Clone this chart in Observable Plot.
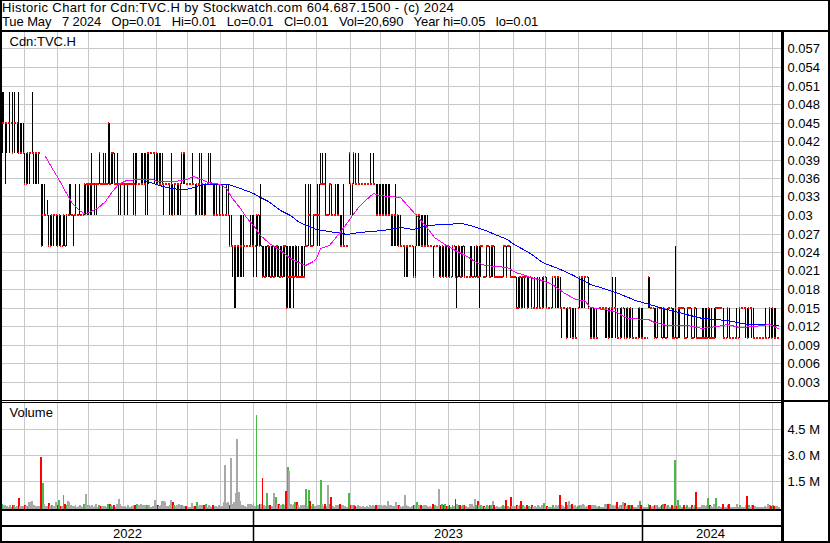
<!DOCTYPE html>
<html><head><meta charset="utf-8">
<script src="https://cdn.jsdelivr.net/npm/d3@7"></script>
<script src="https://cdn.jsdelivr.net/npm/@observablehq/plot@0.6"></script>
<style>
body{margin:0;background:#fff;}
#wrap{position:relative;width:830px;height:543px;overflow:hidden;background:#fff;font-family:"Liberation Sans",Arial,sans-serif;}
.ln{position:absolute;background:#000;}
#title{position:absolute;left:2px;top:1px;font-size:13px;line-height:14px;white-space:pre;color:#000;}
#title .l1{letter-spacing:0.38px;}
#title .l2{letter-spacing:-0.1px;}
</style></head><body><div id="wrap"></div>
<script>
// ---- text ----
const titleLine1 = "Historic Chart for Cdn:TVC.H by Stockwatch.com 604.687.1500 - (c) 2024";
const titleLine2 = "Tue May   7 2024   Op=0.01   Hi=0.01   Lo=0.01   Cl=0.01   Vol=20,690   Year hi=0.05   lo=0.01";
const symbolLabel = "Cdn:TVC.H";
const volumeLabel = "Volume";
const years = ["2022", "2023", "2024"];
const priceTicks = [0.003,0.006,0.009,0.012,0.015,0.018,0.021,0.024,0.027,0.03,0.033,0.036,0.039,0.042,0.045,0.048,0.051,0.054,0.057];
const volTicks = [1500, 3000, 4500]; // thousands of shares

// ---- daily bars (cents), one line per week, weekdays 2022-05-10 .. 2024-05-07 ----
const hi = [
5,5,5,4.5,
4.5,4.5,5,4.5,5, 5,4.5,4.5,5,4.5, 4.5,4.5,4,4,4, 4,4,5,4,4, 4,4,4,3.5,3.5,
3.5,3,3.25,3,3, 3,3,3,3,3, 3,3,2.5,3,3, 3,3,3.5,3.5,3, 3,3.5,3,3,3.5,
3,3,3.5,3.5,3.5, 3.5,3.5,4,3.5,3.5, 3.5,3.5,4,3.5,3.5, 4,4,3.5,4.5,4.5, 4,4,4,3.5,4,
3.5,3.5,3.5,3.5,3.5, 3.5,3.5,3.5,3.5,3.5, 4,4,4,3.5,3.5, 4,4,4,4,4, 4,4,4,4,4,
4,4,4,4,4, 3.5,3.5,3.5,3.5,3.5, 4,3.5,3.5,3.5,3.5, 3.5,3.5,4,4,4, 3.5,3.5,3.5,3.5,4,
3.5,3.5,3.5,3.5,4, 4,3.5,3.5,3.5,3.5, 4,4,3.5,3.5,3.5, 3.5,3,3.5,3,3.5, 3,3,3.5,3.5,3,
3,2.5,2.5,2.5,2.5, 2.5,3,3,3,2.5, 2.5,2.5,2.5,3,3, 3,2.5,3,3,3, 3.5,2.5,2.5,2.5,2.5,
2.5,2.5,2.5,2.5,2.5, 2.5,2.5,2.5,2.5,2.5, 2.5,2.5,2.5,2.5,2.5, 2.5,2.5,2.5,2.5,2.5, 2.5,2,2.5,2.5,2.5,
3.5,2.5,3.5,3.5,2.5, 3,3,3,3.5,3.5, 4,4,3.5,4,3, 3,3.5,3.5,3,3, 3.5,3.5,3.5,3,3,
3.5,2.5,2.5,2.5,4, 3.5,3.5,4,4,3.5, 4,3.5,3.5,3.5,3.5, 3.5,3.5,3.5,4,3.5, 4,3.5,3.5,3.5,3.5,
3.5,3.5,3.5,3.5,3.5, 3.5,3.5,3,3,3, 3.5,3,3,3,2.5, 2.5,2.5,2.5,2.5,2.5, 2.5,2.5,2.5,2.5,3,
3,3,3,3,3, 3,3,2.5,2.5,2.5, 2.5,2.5,2.5,2.5,2.5, 2.5,2.5,2.5,2.5,2.5, 2.5,2.5,2,2.5,2.5,
2.5,2.5,2.5,2.5,2.5, 2.5,2.5,2,2,2, 2.5,2.5,2,2.5,2.5, 2.5,2.5,2.5,2.5,2, 2,2.5,2.5,2.5,2.5,
2.5,2.5,2,2,2, 2,2,2.5,2.5,2.5, 2.5,2.5,2.5,2,2, 2,2,2,2,2, 2,2,2,2,2,
2,2,1.5,2,1.5, 2,2,1.5,2,2, 2,2,1.5,1.5,1.5, 2,2,2,2,2, 2,1.5,1.5,1.5,1.5,
1.5,1.5,1.5,1.5,1.5, 1.5,1,1.5,2,2, 2,2,2,2,2, 1.5,1.5,1.5,1.5,1.5, 1,1.5,1.5,1.5,1.5,
1.5,1.5,1.5,1.5,1.5, 2,1.5,2,1.5,1, 1.5,1.5,1.5,1.5,1.5, 1.5,1.5,1.5,1.5,1, 1,1,1.5,1.5,1.5,
1.5,1,1,1,2, 2,1.5,1.5,1.5,1.5, 1.5,1.5,1.5,1.5,1.5, 1.5,1,1.5,1.5,1.5, 1.5,1.5,2.5,1,1.5,
1.5,1.5,1.5,1.5,1, 1.5,1.5,1.5,1.5,1, 1.5,1.5,1,1,1, 1.5,1.5,1.5,1.5,1.5, 1.5,1.5,1,1.5,1.5,
1.5,1.5,1.5,1.5,1.5, 1,1,1.5,1.5,1, 1,1,1,1.5,1, 1.5,1.5,1.5,1.5,1.5, 1.5,1.5,1.5,1.5,1.5,
1,1,1,1,1, 1,1,1.5,1,1, 1.5,1.5,1.5,1.5,1.5,
1,1];
const lo = [
4,4,4.5,3.5,
4,4.5,4,4.5,4, 4,4.5,4,4,4, 4,4,3.5,3.5,3.5, 3.5,4,4,3.5,3.5, 3.5,3.5,4,2.5,2.5,
3,3,3,2.5,2.5, 2.5,2.5,3,2.5,2.5, 2.5,2.5,2.5,2.5,2.5, 2.5,3,3,3,3, 2.5,3,3,3,3,
3,3,3,3,3, 3,3,3,3.5,3, 3,3.5,3.5,3.5,3.5, 3.5,3.5,3.5,3.5,3.5, 3.5,3.5,3.5,3.5,3.5,
3,3,3.5,3.5,3, 3.5,3,3.5,3.5,3.5, 3,3,3.5,3.5,3.5, 3.5,3.5,3.5,3,3, 3.5,4,4,4,3.5,
3.5,3.5,3.5,3.5,3.5, 3,3.5,3.5,3.5,3, 3,3,3,3.5,3, 3,3,3.5,3.5,3.5, 3.5,3.5,3.5,3.5,3.5,
3.5,3,3,3.5,3, 3,3,3,3,3.5, 3.5,3.5,3.5,3,3, 3,3,3,3,3, 3,3,3,3,2.5,
2.5,2,1.5,1.5,2, 2,2,2,2,2.5, 2.5,2.5,2.5,2.5,2.5, 2,2.5,2,2.5,2.5, 2.5,2,2,2,2,
2,2,2,2,2, 2,2,2,2,2, 2,2,1.5,1.5,1.5, 1.5,2,1.5,2,2, 2,2,2,2,2,
2.5,2.5,2.5,2.5,2.5, 2.5,3,3,2.5,2.5, 3.5,3.5,3.5,3,3, 3,3,3,3,3, 3,3,3,2.5,2.5,
2.5,2.5,2.5,2.5,3.5, 3,3,3.5,3.5,3.5, 3.5,3.5,3.5,3.5,3.5, 3.5,3.5,3.5,3.5,3.5, 3.5,3.5,3,3,3,
3,3,3,3,3, 3,3,2.5,2.5,2.5, 2.5,2.5,2.5,2.5,2.5, 2.5,2,2,2,2.5, 2.5,2.5,2,2,2.5,
2.5,2.5,2.5,2.5,2.5, 2.5,2.5,2.5,2.5,2.5, 2,2.5,2.5,2.5,2, 2,2,2,2,2, 2,2,2,2,2.5,
2,1.5,2,2,2, 2,2,2,2,2, 2,2,2,2,2, 2,1.5,2,2.5,2, 2,2,2.5,2,2,
2,2,2,2,2, 2,2,2,2.5,2, 2.5,2.5,2,2,2, 2,1.5,1.5,1.5,1.5, 1.5,1.5,2,1.5,1.5,
2,1.5,1.5,1.5,1.5, 1.5,1.5,1.5,1.5,1.5, 2,1.5,1.5,1.5,1.5, 1.5,2,1.5,1.5,1.5, 1.5,1,1.5,1.5,1,
1,1.5,1,1,1, 1,1,1.5,1.5,1.5, 1.5,1.5,2,2,1.5, 1,1,1,1,1, 1,1.5,1.5,1.5,1.5,
1,1,1,1,1, 1,1.5,1,1,1, 1,1,1.5,1,1, 1,1,1,1,1, 1,1,1,1,1,
1,1,1,1,1.5, 1.5,1.5,1.5,1,1, 1,1.5,1.5,1,1, 1,1,1,1.5,1.5, 1,1,1,1,1,
1,1.5,1.5,1,1, 1,1.5,1.5,1,1, 1,1,1,1,1, 1,1,1,1,1, 1,1,1,1,1,
1.5,1.5,1.5,1.5,1, 1,1,1,1,1, 1,1,1,1,1, 1,1.5,1.5,1.5,1, 1,1,1.5,1,1,
1,1,1,1,1, 1,1,1,1,1, 1,1,1,1,1,
1,1];
const cl = [
4,4.5,4.5,4.5,
4.5,4.5,4.5,4.5,4, 4.5,4.5,4.5,4,4, 4,4,3.5,3.5,4, 4,4,4,4,4, 4,4,4,2.5,3,
3,3,3,2.5,2.5, 3,3,3,3,2.5, 3,2.5,2.5,3,2.5, 3,3,3,3,3, 3,3,3,3,3,
3,3,3.5,3.5,3.5, 3.5,3.5,3.5,3.5,3.5, 3.5,3.5,4,3.5,3.5, 3.5,3.5,3.5,4.5,3.5, 4,4,3.5,3.5,3.5,
3.5,3.5,3.5,3.5,3.5, 3.5,3.5,3.5,3.5,3.5, 3.5,3,3.5,3.5,3.5, 3.5,3.5,3.5,3.5,4, 4,4,4,4,4,
4,3.5,3.5,3.5,3.5, 3.5,3.5,3.5,3.5,3.5, 3.5,3,3.5,3.5,3.5, 3.5,3.5,4,4,4, 3.5,3.5,3.5,3.5,3.5,
3.5,3,3.5,3.5,3.5, 3.5,3.5,3,3.5,3.5, 3.5,3.5,3.5,3,3, 3,3,3,3,3, 3,3,3,3,2.5,
2.5,2.5,2.5,2.5,2.5, 2.5,2.5,2.5,2.5,2.5, 2.5,2.5,2.5,2.5,2.5, 2.5,2.5,3,3,2.5, 2.5,2,2,2,2.5,
2.5,2,2,2,2, 2.5,2.5,2,2,2, 2.5,2.5,1.5,2,2, 2,2,2,2.5,2, 2,2,2,2,2,
2.5,2.5,3,2.5,2.5, 3,3,3,3,3, 3.5,3.5,3.5,3,3, 3,3.5,3,3,3, 3,3,3,2.5,2.5,
2.5,2.5,2.5,2.5,4, 3.5,3.5,4,3.5,3.5, 3.5,3.5,3.5,3.5,3.5, 3.5,3.5,3.5,3.5,3.5, 3.5,3.5,3,3,3,
3,3,3,3,3, 3,3,3,3,3, 3,3,2.5,2.5,2.5, 2.5,2.5,2.5,2.5,2.5, 2.5,2.5,2,2,3,
3,3,2.5,2.5,2.5, 2.5,2.5,2.5,2.5,2.5, 2,2.5,2.5,2.5,2.5, 2,2.5,2,2.5,2, 2.5,2,2,2.5,2.5,
2,2,2.5,2,2, 2.5,2,2,2,2, 2,2,2,2,2.5, 2,2,2.5,2.5,2, 2,2.5,2.5,2,2.5,
2.5,2,2,2,2, 2,2,2.5,2.5,2, 2.5,2.5,2,2,2, 2,1.5,1.5,2,1.5, 2,2,2,1.5,2,
2,1.5,1.5,1.5,1.5, 1.5,1.5,1.5,1.5,2, 2,1.5,1.5,1.5,1.5, 2,2,2,2,2, 1.5,1.5,1.5,1.5,1,
1.5,1.5,1.5,1,1, 1,1,1.5,2,2, 2,2,2,2,1.5, 1,1,1,1,1, 1,1.5,1.5,1.5,1.5,
1.5,1.5,1,1.5,1.5, 1.5,1.5,1.5,1,1, 1,1.5,1.5,1,1, 1.5,1,1.5,1,1, 1,1,1,1.5,1,
1,1,1,1,2, 1.5,1.5,1.5,1,1, 1.5,1.5,1.5,1,1.5, 1,1,1.5,1.5,1.5, 1,1,1.5,1,1.5,
1.5,1.5,1.5,1,1, 1.5,1.5,1.5,1,1, 1.5,1,1,1,1, 1,1,1,1,1.5, 1,1,1,1,1.5,
1.5,1.5,1.5,1.5,1, 1,1,1.5,1,1, 1,1,1,1,1, 1.5,1.5,1.5,1.5,1.5, 1,1.5,1.5,1.5,1,
1,1,1,1,1, 1,1,1,1,1, 1.5,1,1.5,1,1,
1,1];
// daily volume, thousands of shares
const vol = [
970,150,120,90,
80,20,100,20,120, 90,20,60,530,70, 60,40,110,50,80, 300,280,320,90,60, 70,60,30,2870,1390,
200,40,60,250,80, 90,60,30,300,110, 400,80,30,700,150, 120,350,300,90,30, 80,100,20,30,120,
30,20,150,740,100, 90,60,120,20,70, 200,20,90,60,30, 80,70,20,160,150, 90,60,110,20,200,
450,150,30,20,80, 10,90,20,20,30, 120,100,150,130,140, 150,140,120,130,90, 100,20,20,30,420,
120,90,80,100,330, 350,300,40,30,120, 400,300,90,30,110, 150,90,120,80,60, 60,20,10,20,250,
30,60,300,30,100, 120,130,140,200,20, 90,80,20,110,70, 60,20,90,20,80, 300,2450,250,300,100,
2830,200,300,830,3920, 870,350,120,100,30, 20,200,200,150,100, 250,30,5300,100,200, 150,1700,120,80,830,
90,100,60,80,830, 550,150,200,100,120, 200,100,900,2280,2100, 200,100,150,300,300, 100,20,120,90,110,
1030,80,970,330,50, 150,30,40,120,100, 1540,150,40,200,30, 1250,150,600,30,20, 100,90,120,150,100,
100,30,20,20,830, 120,90,100,80,10, 90,30,20,30,20, 20,30,20,90,30, 100,30,120,100,90,
120,80,90,100,70, 330,100,90,80,70, 300,90,110,80,20, 30,680,90,80,20, 20,30,100,90,300,
120,90,110,80,100, 90,80,20,30,20, 170,120,30,80,1030, 100,150,90,150,80, 80,90,20,100,30,
450,150,100,90,80, 120,110,30,20,20, 200,200,30,450,100, 360,120,90,30,80, 20,100,30,90,110,
360,100,20,30,20, 20,30,90,30,400, 80,20,600,30,30, 30,90,80,100,360, 130,80,20,90,80,
20,90,20,80,20, 100,80,20,90,240, 20,60,20,10,20, 100,20,90,80,90, 680,100,30,20,300,
100,350,90,150,80, 90,20,80,120,100, 150,120,20,30,100, 120,90,100,110,60, 20,60,20,20,10,
150,200,200,200,120, 120,30,100,280,20, 100,120,280,250,80, 100,120,90,100,20, 10,20,90,360,100,
60,20,20,20,150, 120,20,30,100,90, 100,20,30,100,200, 150,30,100,20,20, 90,80,2740,50,400,
90,20,20,90,20, 100,20,20,90,20, 100,850,20,20,10, 100,90,80,90,500, 90,80,20,200,500,
20,30,20,20,200, 20,10,90,200,20, 20,10,20,150,10, 90,20,20,10,100, 620,100,20,90,100,
50,20,20,10,20, 20,20,60,20,200, 90,80,90,80,60,
30,20.69];

// ---- moving averages (cents) ----
const maShortDates = ["2022-06-21","2022-06-28","2022-07-04","2022-07-11","2022-07-15","2022-07-22","2022-07-28","2022-08-02","2022-08-09","2022-08-16","2022-08-23","2022-08-29","2022-09-05","2022-09-16","2022-09-29","2022-10-03","2022-10-20","2022-10-29","2022-11-05","2022-11-12","2022-11-21","2022-12-01","2022-12-07","2022-12-13","2022-12-20","2022-12-26","2023-01-01","2023-01-09","2023-01-17","2023-01-26","2023-02-04","2023-02-11","2023-02-18","2023-02-25","2023-03-01","2023-03-06","2023-03-14","2023-03-22","2023-03-30","2023-04-08","2023-04-17","2023-04-24","2023-04-28","2023-05-06","2023-05-18","2023-05-25","2023-06-02","2023-06-11","2023-06-20","2023-06-30","2023-07-10","2023-07-19","2023-07-28","2023-08-06","2023-08-16","2023-08-26","2023-09-03","2023-09-10","2023-09-16","2023-09-28","2023-10-08","2023-10-18","2023-10-28","2023-11-07","2023-11-13","2023-11-24","2023-12-06","2023-12-17","2024-01-05","2024-01-11","2024-01-24","2024-02-12","2024-02-24","2024-03-01","2024-03-09","2024-03-20","2024-04-01","2024-04-14","2024-04-27","2024-05-07"];
const maShortVals = [3.96,3.73,3.57,3.35,3.19,3.08,3.01,3.06,3.12,3.23,3.39,3.51,3.57,3.59,3.59,3.55,3.55,3.59,3.63,3.58,3.54,3.51,3.43,3.27,3.11,2.96,2.84,2.68,2.54,2.43,2.30,2.24,2.19,2.25,2.30,2.46,2.51,2.70,2.89,3.13,3.24,3.36,3.32,3.30,3.29,3.16,3.00,2.84,2.65,2.51,2.43,2.35,2.24,2.19,2.17,2.15,2.08,2.05,2.00,1.95,1.88,1.75,1.64,1.62,1.51,1.47,1.45,1.33,1.32,1.27,1.22,1.21,1.16,1.19,1.20,1.23,1.19,1.20,1.23,1.16];
const maLongDates = ["2022-09-21","2022-10-02","2022-10-12","2022-10-24","2022-10-31","2022-11-06","2022-11-15","2022-11-24","2022-12-08","2022-12-20","2023-01-01","2023-01-09","2023-01-14","2023-01-26","2023-02-04","2023-02-14","2023-03-01","2023-03-20","2023-03-30","2023-04-11","2023-05-03","2023-05-18","2023-05-31","2023-06-13","2023-06-28","2023-07-15","2023-07-26","2023-08-05","2023-08-17","2023-08-27","2023-08-31","2023-09-08","2023-09-16","2023-09-28","2023-10-14","2023-10-27","2023-11-11","2023-11-24","2023-12-08","2023-12-23","2024-01-06","2024-01-19","2024-02-07","2024-02-26","2024-03-20","2024-04-08","2024-04-22","2024-05-07"];
const maLongVals = [3.57,3.50,3.45,3.42,3.42,3.46,3.50,3.51,3.51,3.44,3.35,3.29,3.22,3.08,3.00,2.89,2.78,2.73,2.69,2.72,2.76,2.80,2.78,2.83,2.85,2.87,2.82,2.75,2.68,2.61,2.54,2.46,2.38,2.24,2.13,2.03,1.88,1.81,1.73,1.62,1.56,1.49,1.41,1.33,1.30,1.23,1.24,1.21];

// ---- build: x is the trading-day index, as on the original chart ----
const parse = d3.utcParse("%Y-%m-%d");
const firstDay = new Date(Date.UTC(2022, 4, 10)), afterLast = new Date(Date.UTC(2024, 4, 8));
const days = d3.utcDays(firstDay, afterLast).filter(d => d.getUTCDay() > 0 && d.getUTCDay() < 6);
if ([hi, lo, cl, vol].some(a => a.length !== days.length)) throw new Error(`len days ${days.length} hi ${hi.length} lo ${lo.length} cl ${cl.length} vol ${vol.length}`);
const idxOf = date => Math.min(d3.bisectLeft(days, date), days.length - 1);
const rows = days.map((date, i) => ({i, date, hi: hi[i] / 100, lo: lo[i] / 100, cl: cl[i] / 100, vol: vol[i],
  dir: i === 0 ? 0 : Math.sign(cl[i] - cl[i - 1])}));
const maShort = maShortDates.map((d, k) => ({i: idxOf(parse(d)), v: maShortVals[k] / 100}));
const maLong = maLongDates.map((d, k) => ({i: idxOf(parse(d)), v: maLongVals[k] / 100}));
const monthIdx = d3.utcMonths(new Date(Date.UTC(2022, 5, 1)), new Date(Date.UTC(2024, 5, 1))).map(idxOf);
const yearIdx = years.map(y => idxOf(parse(y + "-01-01")));
const yearLabels = years.map((y, k) => {
  const a = yearIdx[k];
  const b = k + 1 < years.length ? yearIdx[k + 1] : days.length - 1;
  return {label: y, mid: (a + b) / 2};
});

const X = {type: "linear", domain: [yearIdx[1], yearIdx[2]], range: [253, 642], round: true, axis: null};
const FONT = "font-family:'Liberation Sans',Arial,sans-serif;font-size:13px;background:transparent;overflow:visible;";
const GRID = "#c8c8c8";
const colorOf = d => d.dir > 0 ? "#4cb84c" : d.dir < 0 ? "#ff0000" : "#a8a8a8";

const price = Plot.plot({
  width: 830, height: 370, marginLeft: 2, marginRight: 49, marginTop: 1, marginBottom: 1,
  x: X,
  y: {domain: [0, 0.06], range: [369, -1], round: true, axis: null},
  style: FONT,
  marks: [
    Plot.ruleY(priceTicks, {stroke: GRID}),
    Plot.ruleX(monthIdx, {stroke: GRID}),
    Plot.ruleX(rows.filter(d => d.hi > d.lo), {x: "i", y1: "lo", y2: "hi", stroke: "#000", clip: true}),
    Plot.rect(rows, {x1: d => d.i + 0.05, x2: d => d.i + 0.8, y1: "cl", y2: "cl",
      insetTop: -1, insetBottom: -1, fill: "#ff0000", clip: true}),
    Plot.line(maLong, {x: "i", y: "v", stroke: "#0000ff", strokeWidth: 1, shapeRendering: "crispEdges", clip: true}),
    Plot.line(maShort, {x: "i", y: "v", stroke: "#ff00ff", strokeWidth: 1, shapeRendering: "crispEdges", clip: true}),
    Plot.axisY(priceTicks, {anchor: "right", tickSize: 0, tickPadding: 6, tickFormat: d => String(+d.toFixed(3)), label: null, fill: "#000"}),
    Plot.text([symbolLabel], {text: d => d, frameAnchor: "top-left", dx: 7, dy: 4, lineAnchor: "top", fill: "#000"})
  ]
});

const volume = Plot.plot({
  width: 830, height: 109, marginLeft: 2, marginRight: 49, marginTop: 2, marginBottom: 1,
  x: X,
  y: {domain: [0, 6000], range: [106, 2], round: true, axis: null},
  color: {type: "identity"},
  style: FONT,
  marks: [
    Plot.ruleY(volTicks, {stroke: GRID}),
    Plot.ruleX(monthIdx, {stroke: GRID}),
    Plot.rect(rows, {x1: d => d.i - 0.3, x2: d => d.i + 1, y1: 0, y2: "vol", insetBottom: -2, fill: colorOf, clip: true}),
    Plot.axisY(volTicks, {anchor: "right", tickSize: 0, tickPadding: 6, tickFormat: d => (d / 1000).toFixed(1) + " M", label: null, fill: "#000"}),
    Plot.text([volumeLabel], {text: d => d, frameAnchor: "top-left", dx: 7, dy: 4, lineAnchor: "top", fill: "#000"})
  ]
});

const band = Plot.plot({
  width: 830, height: 33, marginLeft: 2, marginRight: 49, marginTop: 0, marginBottom: 2,
  x: X,
  style: FONT,
  marks: [
    Plot.ruleX(yearIdx.slice(1), {stroke: "#000", strokeWidth: 1.5}),
    Plot.text(yearLabels, {x: "mid", text: "label", frameAnchor: "middle", dy: 8, fill: "#000"})
  ]
});

const wrap = document.getElementById("wrap");
function place(svg, top) { svg.style.position = "absolute"; svg.style.left = "0px"; svg.style.top = top + "px"; wrap.appendChild(svg); }
place(price, 31); place(volume, 401); place(band, 510);

const t = document.createElement("div"); t.id = "title";
const s1 = document.createElement("div"); s1.className = "l1"; s1.textContent = titleLine1;
const s2 = document.createElement("div"); s2.className = "l2"; s2.textContent = titleLine2;
t.appendChild(s1); t.appendChild(s2); wrap.appendChild(t);

function line(l, tp, w, h) { const e = document.createElement("div"); e.className = "ln";
  Object.assign(e.style, {left: l + "px", top: tp + "px", width: w + "px", height: h + "px"}); wrap.appendChild(e); }
line(0, 0, 830, 1);      // top
line(0, 0, 2, 543);      // left
line(828, 0, 2, 543);    // right
line(0, 541, 830, 2);    // bottom
line(0, 30, 830, 2);     // under title
line(781, 31, 3, 512);   // axis separator
line(0, 400, 781, 1); line(0, 402, 781, 1); line(781, 400, 49, 2); // price/volume separator
line(0, 509, 781, 2);    // under volume
line(0, 525, 781, 2);    // band divider
</script></body></html>
